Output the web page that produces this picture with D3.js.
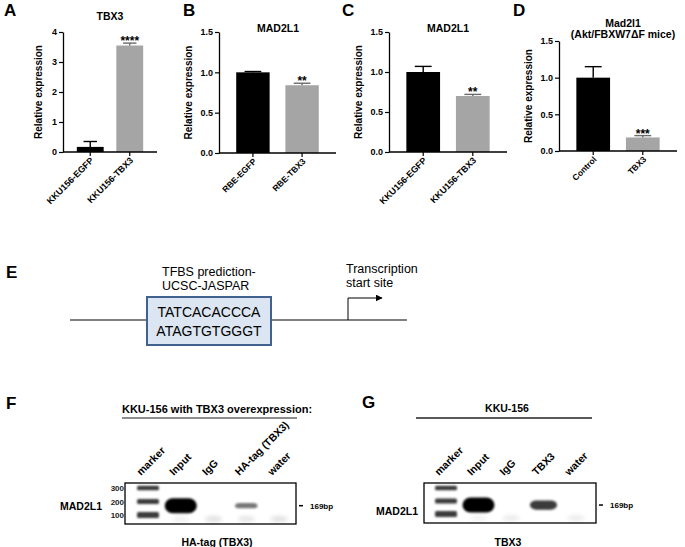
<!DOCTYPE html>
<html>
<head>
<meta charset="utf-8">
<script src="https://cdn.jsdelivr.net/npm/d3@7.9.0/dist/d3.min.js"></script>
<style>
  body { margin: 0; background: #fff; }
  svg { display: block; font-family: "Liberation Sans", Arial, sans-serif; }
</style>
</head>
<body>
<svg id="fig" width="685" height="547"></svg>
<script>
// ---- data: qPCR bar panels ----
const groupsA = ['KKU156-EGFP', 'KKU156-TBX3'];
const meansA = [0.17, 3.55];
const errA = [0.18, 0.08];
const ticksA = [0, 1, 2, 3, 4];

const groupsB = ['RBE-EGFP', 'RBE-TBX3'];
const meansB = [1.0, 0.84];
const errB = [0.01, 0.025];
const ticksB = [0, 0.5, 1.0, 1.5];

const groupsC = ['KKU156-EGFP', 'KKU156-TBX3'];
const meansC = [1.0, 0.70];
const errC = [0.07, 0.02];
const ticksC = [0, 0.5, 1.0, 1.5];

const groupsD = ['Control', 'TBX3'];
const meansD = [1.0, 0.185];
const errD = [0.15, 0.025];
const ticksD = [0, 0.5, 1.0, 1.5];

const starsA = ['', '****'];
const starsB = ['', '**'];
const starsC = ['', '**'];
const starsD = ['', '***'];

// ---- data: ChIP-PCR gels ----
const ladderSizes = [300, 200, 100];
const ladderAmount = [0.6, 0.8, 1.0];
const lanesF = ['marker', 'Input', 'IgG', 'HA-tag (TBX3)', 'water'];
const bandF = [0, 1.0, 0, 0.32, 0];
const dimerF = [0, 0.06, 0.12, 0.1, 0.12];
const lanesG = ['marker', 'Input', 'IgG', 'TBX3', 'water'];
const bandG = [0, 1.0, 0, 0.65, 0];
const dimerG = [0, 0.05, 0.08, 0, 0.08];
const productSize = 169;

const seqTop = 'TATCACACCCA';
const seqBottom = 'ATAGTGTGGGT';

const svg = d3.select('#fig');
const barFill = ['#000000', '#a5a5a5'];
const errColor = ['#000000', '#6a6a6a'];

const defs = svg.append('defs');
defs.append('filter').attr('id', 'blur').attr('x', '-50%').attr('y', '-100%').attr('width', '200%').attr('height', '300%')
  .append('feGaussianBlur').attr('stdDeviation', 1.3);
defs.append('filter').attr('id', 'blur2').attr('x', '-50%').attr('y', '-100%').attr('width', '200%').attr('height', '300%')
  .append('feGaussianBlur').attr('stdDeviation', 2.2);
defs.append('marker').attr('id', 'arrow').attr('viewBox', '0 0 10 10').attr('refX', 9).attr('refY', 5)
  .attr('markerWidth', 7).attr('markerHeight', 7).attr('orient', 'auto')
  .append('path').attr('d', 'M0,0L10,5L0,10z').attr('fill', '#000');

function letter(txt, x, y) {
  svg.append('text').attr('x', x).attr('y', y).attr('font-size', 17).attr('font-weight', 'bold').text(txt);
}

function barPanel(p) {
  const g = svg.append('g');
  const x = d3.scaleBand().domain(p.groups).range([p.x0, p.x1]).paddingInner(0.32).paddingOuter(0.35);
  const y = d3.scaleLinear().domain([0, p.ymax]).range([p.y0, p.y1]);
  const bw = x.bandwidth();

  g.selectAll('rect.bar').data(p.groups).join('rect')
    .attr('x', d => x(d)).attr('width', bw)
    .attr('y', (d, i) => y(p.means[i]))
    .attr('height', (d, i) => p.y0 - y(p.means[i]))
    .attr('fill', (d, i) => barFill[i]);

  // upward error bars
  const eb = g.selectAll('g.err').data(p.groups).join('g').attr('stroke', (d, i) => errColor[i]).attr('stroke-width', 1.4);
  eb.append('line')
    .attr('x1', d => x(d) + bw / 2).attr('x2', d => x(d) + bw / 2)
    .attr('y1', (d, i) => y(p.means[i])).attr('y2', (d, i) => y(p.means[i] + p.errs[i]));
  eb.append('line')
    .attr('x1', d => x(d) + bw * 0.25).attr('x2', d => x(d) + bw * 0.75)
    .attr('y1', (d, i) => y(p.means[i] + p.errs[i])).attr('y2', (d, i) => y(p.means[i] + p.errs[i]));

  g.selectAll('text.star').data(p.groups).join('text')
    .attr('x', d => x(d) + bw / 2)
    .attr('y', (d, i) => y(p.means[i] + p.errs[i]) + 2)
    .attr('text-anchor', 'middle').attr('font-size', 12).attr('font-weight', 'bold')
    .text((d, i) => p.stars[i]);

  const ya = g.append('g').attr('transform', `translate(${p.x0},0)`)
    .call(d3.axisLeft(y).tickValues(p.ticks).tickFormat(p.fmt).tickSize(4).tickSizeOuter(0).tickPadding(2));
  ya.selectAll('text').attr('font-size', 9).attr('font-weight', 'bold').attr('font-family', '"Liberation Sans", Arial, sans-serif');

  const xa = g.append('g').attr('transform', `translate(0,${p.y0})`)
    .call(d3.axisBottom(x).tickSize(4).tickSizeOuter(0).tickFormat(''));
  [ya, xa].forEach(a => {
    a.select('.domain').attr('stroke-width', 1.3);
    a.selectAll('.tick line').attr('stroke-width', 1.2);
  });
  // x axis line spans the whole panel
  xa.select('.domain').attr('d', `M${p.x0},0H${p.x1}`);

  g.selectAll('text.xl').data(p.groups).join('text')
    .attr('transform', d => `translate(${x(d) + bw / 2 + 4},${p.y0 + 9}) rotate(-45)`)
    .attr('text-anchor', 'end').attr('font-size', p.xfs).attr('font-weight', 'bold')
    .text(d => d);

  g.append('text')
    .attr('transform', `translate(${p.x0 - p.ylOff},${(p.y0 + p.y1) / 2}) rotate(-90)`)
    .attr('text-anchor', 'middle').attr('font-size', 10).attr('font-weight', 'bold')
    .text('Relative expression');

  p.title.forEach((t, i) => {
    g.append('text').attr('x', p.tx).attr('y', p.ty + i * 11)
      .attr('text-anchor', 'middle').attr('font-size', 10.5).attr('font-weight', 'bold').text(t);
  });
}

const f1 = d3.format('.1f');
barPanel({groups: groupsA, means: meansA, errs: errA, ticks: ticksA, stars: starsA, fmt: d3.format('d'), ymax: 4,
  x0: 63, x1: 157, y0: 152, y1: 32, xfs: 9, ylOff: 21, title: ['TBX3'], tx: 110, ty: 20});
barPanel({groups: groupsB, means: meansB, errs: errB, ticks: ticksB, stars: starsB, fmt: f1, ymax: 1.5,
  x0: 219, x1: 336, y0: 153, y1: 32, xfs: 8.5, ylOff: 27, title: ['MAD2L1'], tx: 278, ty: 32});
barPanel({groups: groupsC, means: meansC, errs: errC, ticks: ticksC, stars: starsC, fmt: f1, ymax: 1.5,
  x0: 389, x1: 507, y0: 152, y1: 32, xfs: 9, ylOff: 27, title: ['MAD2L1'], tx: 448, ty: 32});
barPanel({groups: groupsD, means: meansD, errs: errD, ticks: ticksD, stars: starsD, fmt: f1, ymax: 1.5,
  x0: 559, x1: 677, y0: 151, y1: 41, xfs: 8.5, ylOff: 27, title: ['Mad2l1', '(Akt/FBXW7\u0394F mice)'], tx: 623, ty: 27});

letter('A', 4, 16);
letter('B', 183, 16);
letter('C', 342, 16);
letter('D', 513, 16);

// ---- panel E: promoter schematic ----
letter('E', 6, 278);
svg.append('line').attr('x1', 70).attr('x2', 407).attr('y1', 320).attr('y2', 320).attr('stroke', '#000').attr('stroke-width', 1);
svg.append('rect').attr('x', 147).attr('y', 297).attr('width', 124).attr('height', 48)
  .attr('fill', '#dce6f2').attr('stroke', '#41618f').attr('stroke-width', 2);
svg.append('text').attr('x', 209).attr('y', 317).attr('text-anchor', 'middle').attr('font-size', 14).text(seqTop);
svg.append('text').attr('x', 209).attr('y', 336).attr('text-anchor', 'middle').attr('font-size', 14).text(seqBottom);
svg.append('text').attr('x', 162).attr('y', 276).attr('font-size', 12.5).text('TFBS prediction-');
svg.append('text').attr('x', 162).attr('y', 290).attr('font-size', 12.5).text('UCSC-JASPAR');
svg.append('text').attr('x', 346).attr('y', 273).attr('font-size', 12.5).text('Transcription');
svg.append('text').attr('x', 346).attr('y', 287).attr('font-size', 12.5).text('start site');
svg.append('path').attr('d', 'M348,320V298H382').attr('fill', 'none').attr('stroke', '#000').attr('stroke-width', 1)
  .attr('marker-end', 'url(#arrow)');

// ---- gel panels ----
function gelPanel(p) {
  const g = svg.append('g');
  const lane = d3.scalePoint().domain(p.lanes).range([p.l0, p.l1]);
  const yb = d3.scaleLinear().domain([100, 300]).range([p.gy1 - 9, p.gy0 + 5]);

  g.append('text').attr('x', p.titleX).attr('y', p.titleY).attr('text-anchor', 'middle')
    .attr('font-size', p.titleFs).attr('font-weight', 'bold').text(p.title);
  g.append('line').attr('x1', p.ux0).attr('x2', p.ux1).attr('y1', p.uy).attr('y2', p.uy)
    .attr('stroke', p.ucol).attr('stroke-width', 1.3);

  g.selectAll('text.lane').data(p.lanes).join('text')
    .attr('transform', d => `translate(${lane(d) - 7},${p.ly}) rotate(-45)`)
    .attr('font-size', 10.5).attr('font-weight', 'bold').text(d => d);

  // ladder
  g.selectAll('rect.ladder').data(ladderSizes).join('rect')
    .attr('x', lane('marker') - 11).attr('width', 22)
    .attr('y', (d, i) => yb(d) - 1 - 2 * ladderAmount[i]).attr('height', (d, i) => 2 + 4 * ladderAmount[i]).attr('rx', 1.5)
    .attr('fill', '#3a3a3a').attr('filter', 'url(#blur)');

  // product bands
  const bands = p.lanes.map((l, i) => ({l, v: p.band[i]})).filter(d => d.v > 0);
  g.selectAll('rect.band').data(bands).join('rect')
    .attr('x', d => lane(d.l) - (9 + 7 * d.v)).attr('width', d => 18 + 14 * d.v)
    .attr('y', d => yb(productSize) - (1.5 + 6 * Math.pow(d.v, 1.5))).attr('height', d => 3 + 12 * Math.pow(d.v, 1.5))
    .attr('rx', d => 3 + 5 * d.v)
    .attr('fill', d => d3.interpolateGreys(0.3 + 0.7 * Math.pow(d.v, 0.7)))
    .attr('filter', 'url(#blur)');

  const dim = p.lanes.map((l, i) => ({l, v: p.dimer[i]})).filter(d => d.v > 0);
  g.selectAll('ellipse.dimer').data(dim).join('ellipse')
    .attr('cx', d => lane(d.l)).attr('cy', p.gy1 - 5).attr('rx', 9).attr('ry', 3)
    .attr('fill', '#000').attr('opacity', d => d.v).attr('filter', 'url(#blur2)');

  g.append('rect').attr('x', p.gx0).attr('y', p.gy0).attr('width', p.gx1 - p.gx0).attr('height', p.gy1 - p.gy0)
    .attr('fill', 'none').attr('stroke', '#000').attr('stroke-width', 1.3);

  if (p.showSizes) {
    g.selectAll('text.size').data(ladderSizes).join('text')
      .attr('x', p.gx0 - 1).attr('y', d => yb(d) + 3).attr('text-anchor', 'end')
      .attr('font-size', 8).attr('font-weight', 'bold').attr('fill', '#222').text(d => d);
  }
  g.append('text').attr('x', p.nameX).attr('y', p.nameY).attr('text-anchor', 'end')
    .attr('font-size', 10.5).attr('font-weight', 'bold').text('MAD2L1');

  g.append('line').attr('x1', p.gx1 + 3).attr('x2', p.gx1 + 7).attr('y1', yb(productSize)).attr('y2', yb(productSize))
    .attr('stroke', '#000').attr('stroke-width', 1.5);
  g.append('text').attr('x', p.gx1 + 14).attr('y', yb(productSize) + 3).attr('font-size', 8).attr('font-weight', 'bold')
    .text(productSize + 'bp');

  g.append('text').attr('x', p.footX).attr('y', p.footY).attr('text-anchor', 'middle')
    .attr('font-size', 10.5).attr('font-weight', 'bold').text(p.foot);
}

letter('F', 6, 409);
gelPanel({lanes: lanesF, band: bandF, dimer: dimerF, l0: 148, l1: 279, gx0: 125, gx1: 296, gy0: 483, gy1: 524,
  title: 'KKU-156 with TBX3 overexpression:', titleFs: 11, titleX: 217, titleY: 413, ux0: 122, ux1: 297, uy: 418, ucol: '#666',
  ly: 476, showSizes: true, nameX: 102, nameY: 510, foot: 'HA-tag (TBX3)', footX: 217, footY: 546});

letter('G', 362, 408);
gelPanel({lanes: lanesG, band: bandG, dimer: dimerG, l0: 446, l1: 576, gx0: 424, gx1: 596, gy0: 483, gy1: 523,
  title: 'KKU-156', titleFs: 10.5, titleX: 507, titleY: 412, ux0: 416, ux1: 592, uy: 418, ucol: '#222',
  ly: 476, showSizes: false, nameX: 418, nameY: 515, foot: 'TBX3', footX: 508, footY: 546});
</script>
</body>
</html>
